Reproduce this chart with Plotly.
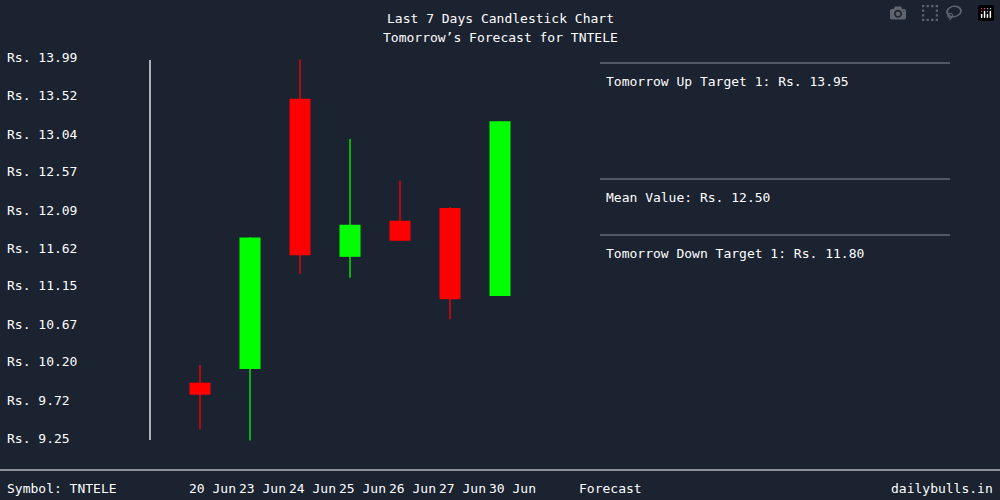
import plotly.graph_objects as go

dates = ["20 Jun", "23 Jun", "24 Jun", "25 Jun", "26 Jun", "27 Jun", "30 Jun"]
opens = [9.94, 10.11, 13.48, 11.51, 11.96, 12.12, 11.02]
closes = [9.79, 11.75, 11.53, 11.91, 11.71, 10.98, 13.20]
highs = [10.16, 11.75, 13.97, 12.98, 12.46, 12.13, 13.20]
lows = [9.36, 9.22, 11.30, 11.25, 11.71, 10.73, 11.02]
ytick_vals = [13.99, 13.52, 13.04, 12.57, 12.09, 11.62, 11.15, 10.67, 10.20, 9.72, 9.25]
symbol = "TNTELE"
up_target, mean_val, down_target = 13.95, 12.50, 11.80

BG = "#1b2230"
FONT = "DejaVu Sans Mono"
GREEN, RED = "#00ff00", "#ff0000"
xs = list(range(len(dates)))
cols = [GREEN if c >= o else RED for o, c in zip(opens, closes)]

fig = go.Figure()
for x, h, l, c in zip(xs, highs, lows, cols):
    fig.add_trace(go.Scatter(x=[x, x], y=[l, h], mode="lines", line=dict(color=c, width=1.3),
                             hoverinfo="skip", showlegend=False))
fig.add_trace(go.Bar(x=xs, base=[min(o, c) for o, c in zip(opens, closes)],
                     y=[abs(o - c) for o, c in zip(opens, closes)], width=0.42,
                     marker=dict(color=cols, line=dict(width=0)), showlegend=False))

f = dict(color="white", size=13, family=FONT)
ann = []
for v in ytick_vals:
    ann.append(dict(x=0.005, xref="paper", y=v, yref="y", text=f"Rs. {v:.2f}", showarrow=False,
                    xanchor="left", font=f))
for i, d in enumerate(dates):
    ann.append(dict(x=i + 0.25, xref="x", y=12, yref="paper", yanchor="middle", text=d, showarrow=False, font=f))
ann += [
    dict(x=8.2, xref="x", y=12, yref="paper", yanchor="middle", text="Forecast", showarrow=False, font=f),
    dict(x=0.005, xref="paper", y=12, yref="paper", yanchor="middle", xanchor="left", text=f"Symbol: {symbol}",
         showarrow=False, font=f),
    dict(x=0.995, xref="paper", y=12, yref="paper", yanchor="middle", xanchor="right", text="dailybulls.in",
         showarrow=False, font=f),
    dict(x=0.5, xref="paper", y=482, yref="paper", yanchor="middle", text="Last 7 Days Candlestick Chart",
         showarrow=False, font=f),
    dict(x=0.5, xref="paper", y=462, yref="paper", yanchor="middle", text=f"Tomorrow’s Forecast for {symbol}",
         showarrow=False, font=f),
    dict(x=0.604, xref="paper", y=419, yref="paper", yanchor="middle", xanchor="left",
         text=f"Tomorrow Up Target 1: Rs. {up_target:.2f}", showarrow=False, font=f),
    dict(x=0.604, xref="paper", y=303, yref="paper", yanchor="middle", xanchor="left",
         text=f"Mean Value: Rs. {mean_val:.2f}", showarrow=False, font=f),
    dict(x=0.604, xref="paper", y=247, yref="paper", yanchor="middle", xanchor="left",
         text=f"Tomorrow Down Target 1: Rs. {down_target:.2f}", showarrow=False, font=f),
]
for a in ann:
    if a.get("yref") == "paper" and a["y"] >= 1:
        a["y"] = a["y"] / 500

shapes = [
    dict(type="line", xref="paper", yref="paper", x0=0.15, x1=0.15, y0=60/500, y1=440/500,
         line=dict(color="white", width=1.3)),
    dict(type="line", xref="paper", yref="paper", x0=0, x1=1, y0=30/500, y1=30/500, line=dict(color="white", width=1)),
]
for py in [63, 179, 235]:
    shapes.append(dict(type="line", xref="paper", yref="paper", x0=0.6, x1=0.95, y0=1 - py/500, y1=1 - py/500,
                       line=dict(color="#8a8f99", width=1)))

fig.update_layout(
    width=1000, height=500, margin=dict(l=0, r=0, t=0, b=0),
    paper_bgcolor=BG, plot_bgcolor=BG, showlegend=False,
    xaxis=dict(range=[-4, 16], visible=False, fixedrange=True),
    yaxis=dict(range=[8.477, 14.713], visible=False, fixedrange=True),
    annotations=ann, shapes=shapes, font=dict(family=FONT, color="white"),
)
fig.write_html("out.html")
with open("out.html", encoding="utf-8") as fh:
    html = fh.read()
html = html.replace("<head>", "<head><style>html,body{margin:0;padding:0;overflow:hidden;background:#1b2230}</style>", 1)
with open("out.html", "w", encoding="utf-8") as fh:
    fh.write(html)
